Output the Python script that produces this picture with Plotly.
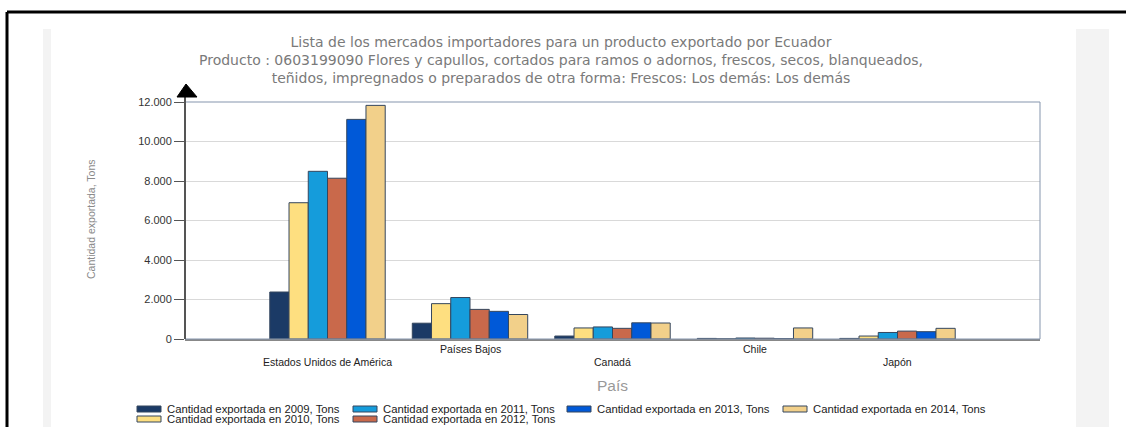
import plotly.graph_objects as go

paises = ["Estados Unidos de América", "Países Bajos", "Canadá", "Chile", "Japón"]
anios = ["2009", "2010", "2011", "2012", "2013", "2014"]

# toneladas exportadas
t2009 = [2380, 800, 150, 30, 30]
t2010 = [6900, 1790, 560, 10, 150]
t2011 = [8490, 2100, 610, 50, 330]
t2012 = [8140, 1500, 540, 40, 400]
t2013 = [11120, 1400, 820, 15, 370]
t2014 = [11830, 1240, 810, 560, 540]

series = [t2009, t2010, t2011, t2012, t2013, t2014]
colores = ["#1B3A66", "#FEDF80", "#159CDB", "#C9694B", "#0059D8", "#F2D08A"]

titulo = [
    "Lista de los mercados importadores para un producto exportado por Ecuador",
    "Producto : 0603199090 Flores y capullos, cortados para ramos o adornos, frescos, secos, blanqueados,",
    "teñidos, impregnados o preparados de otra forma: Frescos: Los demás: Los demás",
]

W, H = 1126, 427
L, R, T, B = 185, 1040, 102, 339


def px(x, y):
    # pixel -> paper coords
    return (x - L) / (R - L), (B - y) / (B - T)


fig = go.Figure()
for anio, vals, col in zip(anios, series, colores):
    fig.add_trace(go.Bar(
        x=paises, y=vals, name=f"Cantidad exportada en {anio}, Tons",
        marker=dict(color=col, line=dict(color="#34465e", width=1)),
        showlegend=False,
    ))

shapes = []
annotations = []

# marco y paneles grises de la pagina
for x0, x1 in [(43, 51), (1076, 1109)]:
    a0, b0 = px(x0, 29)
    a1, b1 = px(x1, H)
    shapes.append(dict(type="rect", xref="paper", yref="paper", x0=a0, x1=a1, y0=b1, y1=b0,
                       fillcolor="#f3f3f3", line=dict(width=0), layer="below"))
a0, b0 = px(7, 12)
a1, b1 = px(W, H)
shapes.append(dict(type="line", xref="paper", yref="paper", x0=a0, x1=a1, y0=b0, y1=b0,
                   line=dict(color="#000", width=3)))
shapes.append(dict(type="line", xref="paper", yref="paper", x0=a0, x1=a0, y0=b0, y1=b1,
                   line=dict(color="#000", width=3)))

# borde superior / derecho del area
shapes.append(dict(type="rect", xref="paper", yref="paper", x0=0, x1=1, y0=0, y1=1,
                   line=dict(color="#8595ad", width=1)))
# eje y con flecha
_, ya = px(0, 96)
shapes.append(dict(type="line", xref="paper", yref="paper", x0=0, x1=0, y0=0, y1=ya,
                   line=dict(color="#555", width=2)))
p1 = px(177, 97)
p2 = px(197, 97)
p3 = px(186, 84)
shapes.append(dict(type="path", xref="paper", yref="paper",
                   path=f"M {p1[0]},{p1[1]} L {p2[0]},{p2[1]} L {p3[0]},{p3[1]} Z",
                   fillcolor="#000", line=dict(color="#000", width=1)))

# titulo (un solo texto de tres lineas)
tx, ty = px(561, 59.5)
annotations.append(dict(text="<br>".join(titulo), x=tx, y=ty, xref="paper", yref="paper",
                        xanchor="center", yanchor="middle", align="center", showarrow=False,
                        font=dict(family="DejaVu Sans", size=14, color="#7a7a7a")))

# etiquetas del eje x escalonadas
for i, p in enumerate(paises):
    annotations.append(dict(text=p, x=p, xref="x", y=0, yref="paper", yanchor="middle",
                            yshift=-10 if i % 2 else -23, showarrow=False,
                            font=dict(family="Liberation Sans, Arial", size=10.5, color="#222")))

# titulos de ejes
tx, ty = px(612, 385)
annotations.append(dict(text="País", x=tx, y=ty, xref="paper", yref="paper", showarrow=False,
                        xanchor="center", yanchor="middle",
                        font=dict(family="Liberation Sans, Arial", size=15.5, color="#999")))
tx, ty = px(91, 220)
annotations.append(dict(text="Cantidad exportada, Tons", x=tx, y=ty, xref="paper", yref="paper",
                        showarrow=False, textangle=-90, xanchor="center", yanchor="middle",
                        font=dict(family="Liberation Sans, Arial", size=10.5, color="#8a8a8a")))

# leyenda manual
pos = [(137, 409), (137, 419), (353, 409), (353, 419), (567, 409), (783, 409)]
for anio, col, (lx, ly) in zip(anios, colores, pos):
    a0, b0 = px(lx, ly - 3)
    a1, b1 = px(lx + 24, ly + 3)
    shapes.append(dict(type="rect", xref="paper", yref="paper", x0=a0, x1=a1, y0=b1, y1=b0,
                       fillcolor=col, line=dict(color="#34465e", width=1)))
    tx, ty = px(lx + 28, ly)
    annotations.append(dict(text=f"Cantidad exportada en {anio}, Tons", x=tx, y=ty,
                            xref="paper", yref="paper", xanchor="left", yanchor="middle",
                            showarrow=False,
                            font=dict(family="Liberation Sans, Arial", size=11.3, color="#222")))

fig.update_layout(
    width=W, height=H,
    margin=dict(l=L, r=W - R, t=T, b=H - B, pad=0),
    paper_bgcolor="white", plot_bgcolor="white",
    barmode="group", bargap=0.19, bargroupgap=0,
    separators=",.",
    shapes=shapes, annotations=annotations,
    xaxis=dict(type="category", range=[-1, 5], showticklabels=False, ticks="",
               showgrid=False, showline=True, linecolor="#888", linewidth=2, zeroline=False),
    yaxis=dict(range=[0, 12000], dtick=2000, tickformat=",d", ticks="outside", ticklen=10,
               tickcolor="#555", showline=False, gridcolor="#d9d9d9", gridwidth=1,
               zeroline=False, tickfont=dict(family="Liberation Sans, Arial", size=11, color="#333")),
)

# sin margen del body para que el grafico quede en (0, 0)
fig.write_html("out.html", config={"displayModeBar": False},
               post_script="document.body.style.margin='0px';")
